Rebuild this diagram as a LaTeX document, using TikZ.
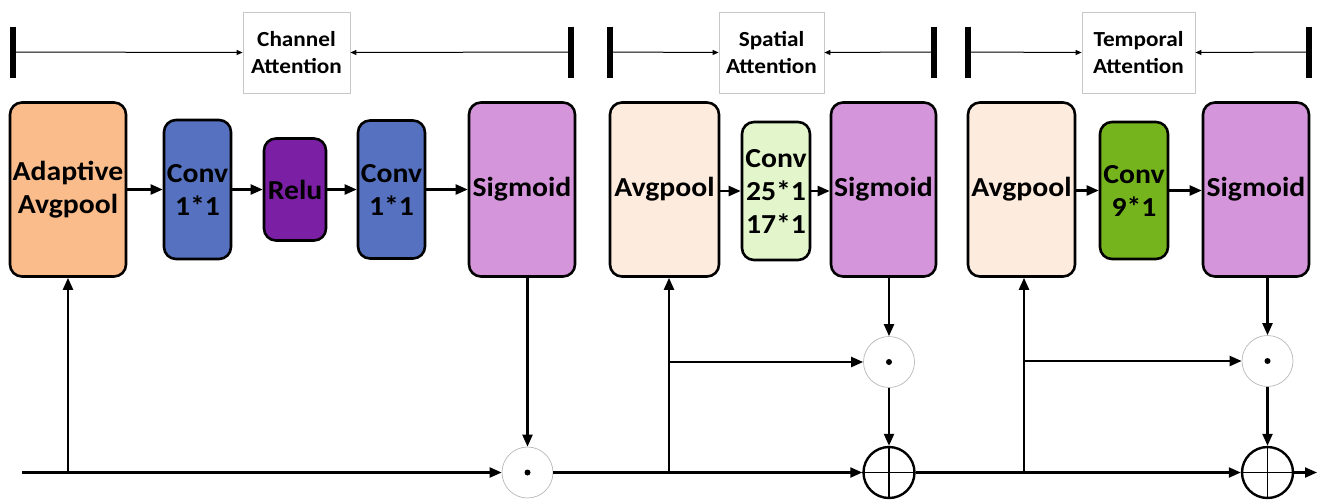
\documentclass[tikz,border=0pt]{standalone}
\usepackage{fontspec}
\setmainfont{Carlito}[FakeStretch=1.08]
\usetikzlibrary{arrows.meta}

\definecolor{orng}{HTML}{F9BC8A}
\definecolor{blu}{HTML}{5571BF}
\definecolor{purp}{HTML}{7B1FA4}
\definecolor{lilac}{HTML}{D495DB}
\definecolor{peach}{HTML}{FDEBDD}
\definecolor{lgreen}{HTML}{E2F5CB}
\definecolor{grn}{HTML}{76B41E}

\begin{document}
\begin{tikzpicture}[x=1pt,y=-1pt,
  box/.style={draw=black,line width=2.6pt,rounded corners=12pt,align=center,inner sep=0pt,
    font=\fontsize{27.5}{33}\selectfont\bfseries},
  tag/.style={draw=black!22,line width=0.8pt,fill=white,align=center,inner sep=0pt,
    minimum height=81pt,font=\fontsize{21.5}{27}\selectfont\bfseries},
  flow/.style={line width=2.2pt,-{Triangle[length=12pt,width=10pt]}},
  span/.style={line width=1pt,-{Triangle[length=6pt,width=5pt]}},
  bar/.style={line width=6pt},
  mul/.style={circle,draw=black!28,line width=0.7pt,fill=white,minimum size=51pt,inner sep=0pt},
  add/.style={circle,draw=black,line width=2.4pt,fill=white,minimum size=51pt,inner sep=0pt},
]
\useasboundingbox (0,0) rectangle (1317,499);

% ---- section headers ----
\node[tag,minimum width=107pt] (ch) at (296.5,52.5) {Channel\\Attention};
\node[tag,minimum width=105pt] (sp) at (771.5,52.5) {Spatial\\Attention};
\node[tag,minimum width=113pt] (tp) at (1138.5,52.5) {Temporal\\Attention};
\coordinate (b1) at (13,52);  \coordinate (b2) at (571,52);
\coordinate (b3) at (610,52); \coordinate (b4) at (934,52);
\coordinate (b5) at (968,52); \coordinate (b6) at (1309,52);
\foreach \b in {b1,b2,b3,b4,b5,b6}
  \draw[bar] (\b) ++(0,-25.5) -- ++(0,51);
\draw[span] (b1) -- (ch.west);
\draw[span] (b2) -- (ch.east);
\draw[span] (b3) -- (sp.west);
\draw[span] (b4) -- (sp.east);
\draw[span] (b5) -- (tp.west);
\draw[span] (b6) -- (tp.east);

% ---- channel attention ----
\node[box,fill=orng,minimum width=116pt,minimum height=174pt] (ada) at (68,189.5) {Adaptive\\Avgpool};
\node[box,fill=blu,minimum width=67pt,minimum height=139pt] (c1) at (197.5,189.5) {Conv\\1*1};
\node[box,fill=purp,minimum width=62pt,minimum height=102pt] (relu) at (295,189.5) {Relu};
\node[box,fill=blu,minimum width=67pt,minimum height=138pt] (c2) at (391.5,189.5) {Conv\\1*1};
\node[box,fill=lilac,minimum width=106pt,minimum height=174pt] (sg1) at (522,189.5) {Sigmoid};
\draw[flow] (ada) -- (c1);
\draw[flow] (c1) -- (relu);
\draw[flow] (relu) -- (c2);
\draw[flow] (c2) -- (sg1);

% ---- spatial attention ----
\node[box,fill=peach,minimum width=109pt,minimum height=174pt] (ap2) at (664.5,189.5) {Avgpool};
\node[box,fill=lgreen,minimum width=68pt,minimum height=138pt] (c3) at (776,191) {Conv\\25*1\\17*1};
\node[box,fill=lilac,minimum width=105pt,minimum height=174pt] (sg2) at (883.5,189.5) {Sigmoid};
\draw[flow] (ap2.east |- c3) -- (c3);
\draw[flow] (c3) -- (sg2.west |- c3);

% ---- temporal attention ----
\node[box,fill=peach,minimum width=107pt,minimum height=174pt] (ap3) at (1021.5,189.5) {Avgpool};
\node[box,fill=grn,minimum width=68pt,minimum height=137pt] (c4) at (1134,190.5) {Conv\\9*1};
\node[box,fill=lilac,minimum width=106pt,minimum height=174pt] (sg3) at (1256,189.5) {Sigmoid};
\draw[flow] (ap3.east |- c4) -- (c4);
\draw[flow] (c4) -- (sg3.west |- c4);

% ---- combining operators ----
\node[mul] (m1) at (527.5,472.5) {};
\node[mul] (m2) at (889,362) {};
\node[add] (a1) at (889,472.5) {};
\node[mul] (m3) at (1267.5,361) {};
\node[add] (a2) at (1267.5,472.5) {};
\foreach \m in {m1,m2,m3} \fill (\m) circle (3pt);
\foreach \a in {a1,a2} {
  \draw[line width=1.6pt] (\a.north) -- (\a.south);
  \draw[line width=1.6pt] (\a.west) -- (\a.east);
}

% ---- main stream and skip paths ----
\coordinate (in) at (22,472.5);
\coordinate (out) at (1317,472.5);
\coordinate (j1) at (68,472.5);
\coordinate (j2) at (669,472.5);
\coordinate (j3) at (1024,472.5);
\coordinate (k2) at (669,362);
\coordinate (k3) at (1024,361);

\draw[flow] (in) -- (m1);
\draw[flow] (m1) -- (a1);
\draw[flow] (a1) -- (a2);
\draw[flow] (a2.east) -- (out);
\draw[flow] (j1) -- (ada);
\draw[flow] (j2) -- (j2 |- ap2.south);
\draw[flow] (j3) -- (j3 |- ap3.south);
\draw[flow] (k2) -- (m2);
\draw[flow] (k3) -- (m3);
\draw[flow] (m1 |- sg1.south) -- (m1);
\draw[flow] (m2 |- sg2.south) -- (m2);
\draw[flow] (m3 |- sg3.south) -- (m3);
\draw[flow] (m2) -- (a1);
\draw[flow] (m3) -- (a2);
\end{tikzpicture}
\end{document}
